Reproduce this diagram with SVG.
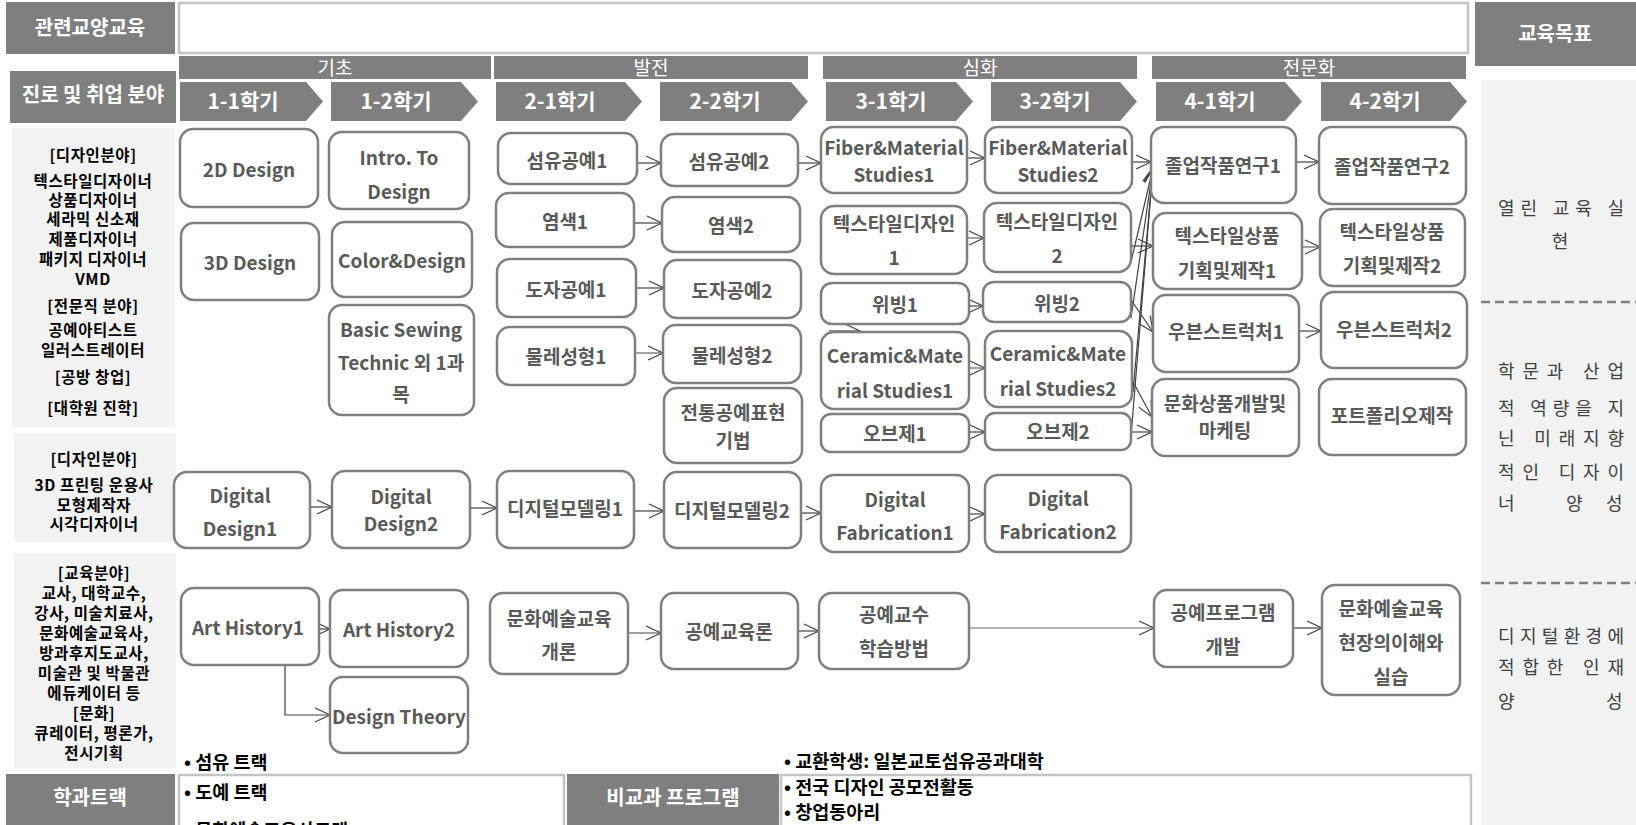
<svg xmlns="http://www.w3.org/2000/svg" width="1636" height="825" viewBox="0 0 1636 825">
<defs>
<style>
text{font-family:"Noto Sans CJK KR","Noto Sans",sans-serif}
.hd{fill:#7f7f7f}
.ht{fill:#fff;font-weight:700;font-size:20px;text-anchor:middle}
.ph{fill:#fff;font-size:19px;text-anchor:middle}
.sm{fill:#fff;font-weight:700;font-size:21px;text-anchor:middle}
.pn{fill:#f2f2f2}
.lt{fill:#000;font-weight:700;font-size:15.5px;letter-spacing:0.6px;text-anchor:middle}
.wb{fill:#fff;stroke:#c4c4c4;stroke-width:2.5}
.n rect{fill:#fff;stroke:#7f7f7f;stroke-width:2.5}
.n text{fill:#595959;font-weight:700;font-size:19px;text-anchor:middle}
.c path{fill:none;stroke:#404040;stroke-width:1.2;marker-end:url(#ah)}
.c path.lt2{stroke:#666}
.rt{fill:#404040;font-size:18px}
.bt{fill:#000;font-weight:700;font-size:18.5px}
.ds{stroke:#808080;stroke-width:2.5;stroke-dasharray:9 5}
</style>
<marker id="ah" markerUnits="userSpaceOnUse" viewBox="0 0 18 16" markerWidth="18" markerHeight="16" refX="16" refY="8" orient="auto" overflow="visible">
<path d="M1,1 L16,8 L1,15" fill="none" stroke="#404040" stroke-width="1.2"/>
</marker>
</defs>
<rect width="1636" height="825" fill="#fff"/>

<g id="headers">
<rect class="hd" x="6" y="2" width="169" height="52"/>
<text class="ht" x="90" y="35">관련교양교육</text>
<rect class="wb" x="179" y="3" width="1289" height="50"/>
<rect class="hd" x="1475" y="2" width="161" height="64"/>
<text class="ht" x="1555" y="41">교육목표</text>
<rect class="hd" x="10" y="71" width="166" height="52"/>
<text class="ht" x="93" y="102">진로 및 취업 분야</text>
</g>

<g id="phases">
<rect class="hd" x="179" y="56" width="312" height="23"/>
<text class="ph" x="335" y="75">기초</text>
<rect class="hd" x="494" y="56" width="314" height="23"/>
<text class="ph" x="651" y="75">발전</text>
<rect class="hd" x="823" y="56" width="314" height="23"/>
<text class="ph" x="980" y="75">심화</text>
<rect class="hd" x="1152" y="56" width="314" height="23"/>
<text class="ph" x="1309" y="75">전문화</text>
</g>

<g id="semesters">
<polygon class="hd" points="180,82 306,82 323,101.5 306,121 180,121"/>
<text class="sm" x="243" y="109">1-1학기</text>
<polygon class="hd" points="331,82 461,82 478,101.5 461,121 331,121"/>
<text class="sm" x="396" y="109">1-2학기</text>
<polygon class="hd" points="496,82 625,82 642,101.5 625,121 496,121"/>
<text class="sm" x="560" y="109">2-1학기</text>
<polygon class="hd" points="660,82 791,82 808,101.5 791,121 660,121"/>
<text class="sm" x="725" y="109">2-2학기</text>
<polygon class="hd" points="826,82 956,82 973,101.5 956,121 826,121"/>
<text class="sm" x="891" y="109">3-1학기</text>
<polygon class="hd" points="991,82 1120,82 1137,101.5 1120,121 991,121"/>
<text class="sm" x="1055" y="109">3-2학기</text>
<polygon class="hd" points="1156,82 1285,82 1302,101.5 1285,121 1156,121"/>
<text class="sm" x="1220" y="109">4-1학기</text>
<polygon class="hd" points="1321,82 1450,82 1467,101.5 1450,121 1321,121"/>
<text class="sm" x="1385" y="109">4-2학기</text>
</g>

<g id="career-panels">
<rect class="pn" x="12" y="128" width="163" height="299"/>
<text class="lt" x="93" y="161">[디자인분야]</text>
<text class="lt" x="93" y="187">텍스타일디자이너</text>
<text class="lt" x="93" y="206">상품디자이너</text>
<text class="lt" x="93" y="225">세라믹 신소재</text>
<text class="lt" x="93" y="245">제품디자이너</text>
<text class="lt" x="93" y="265">패키지 디자이너</text>
<text class="lt" x="93" y="285">VMD</text>
<text class="lt" x="93" y="312">[전문직 분야]</text>
<text class="lt" x="93" y="336">공예아티스트</text>
<text class="lt" x="93" y="356">일러스트레이터</text>
<text class="lt" x="93" y="383">[공방 창업]</text>
<text class="lt" x="93" y="414">[대학원 진학]</text>
<rect class="pn" x="14" y="433" width="162" height="109"/>
<text class="lt" x="94" y="465">[디자인분야]</text>
<text class="lt" x="94" y="491">3D 프린팅 운용사</text>
<text class="lt" x="94" y="511">모형제작자</text>
<text class="lt" x="94" y="530">시각디자이너</text>
<rect class="pn" x="14" y="553" width="162" height="215"/>
<text class="lt" x="94" y="579">[교육분야]</text>
<text class="lt" x="94" y="599">교사, 대학교수,</text>
<text class="lt" x="94" y="619">강사, 미술치료사,</text>
<text class="lt" x="94" y="639">문화예술교육사,</text>
<text class="lt" x="94" y="659">방과후지도교사,</text>
<text class="lt" x="94" y="679">미술관 및 박물관</text>
<text class="lt" x="94" y="699">에듀케이터 등</text>
<text class="lt" x="94" y="719">[문화]</text>
<text class="lt" x="94" y="739">큐레이터, 평론가,</text>
<text class="lt" x="94" y="759">전시기획</text>
</g>

<g id="goals">
<rect class="pn" x="1481" y="80" width="155" height="745"/>
<text class="rt" x="1498" y="215" textLength="126" lengthAdjust="spacing">열린 교육 실</text>
<text class="rt" x="1560" y="248" text-anchor="middle">현</text>
<line class="ds" x1="1481" y1="302" x2="1636" y2="302"/>
<text class="rt" x="1498" y="378" textLength="126" lengthAdjust="spacing">학문과 산업</text>
<text class="rt" x="1498" y="415" textLength="126" lengthAdjust="spacing">적 역량을 지</text>
<text class="rt" x="1498" y="445" textLength="126" lengthAdjust="spacing">닌 미래지향</text>
<text class="rt" x="1498" y="479" textLength="126" lengthAdjust="spacing">적인 디자이</text>
<text class="rt" x="1498" y="510">너</text>
<text class="rt" x="1566" y="510">양</text>
<text class="rt" x="1606" y="510">성</text>
<line class="ds" x1="1481" y1="583" x2="1636" y2="583"/>
<text class="rt" x="1498" y="643" textLength="126" lengthAdjust="spacing">디지털환경에</text>
<text class="rt" x="1498" y="674" textLength="126" lengthAdjust="spacing">적합한 인재</text>
<text class="rt" x="1498" y="708">양</text>
<text class="rt" x="1606" y="708">성</text>
</g>

<g id="bottom">
<rect class="hd" x="6" y="774" width="169" height="55"/>
<text class="ht" x="90" y="805">학과트랙</text>
<rect class="wb" x="179" y="775" width="385" height="60"/>
<text class="bt" x="184" y="769">• 섬유 트랙</text>
<text class="bt" x="184" y="799">• 도예 트랙</text>
<text class="bt" x="184" y="837">• 문화예술교육사트랙</text>
<rect class="hd" x="567" y="774" width="212" height="55"/>
<text class="ht" x="673" y="805">비교과 프로그램</text>
<rect class="wb" x="781" y="775" width="690" height="60"/>
<text class="bt" x="784" y="768">• 교환학생: 일본교토섬유공과대학</text>
<text class="bt" x="784" y="794">• 전국 디자인 공모전활동</text>
<text class="bt" x="784" y="819">• 창업동아리</text>
</g>

<g id="connectors" class="c">
<path d="M637 163 H661"/>
<path d="M798 163 H821"/>
<path d="M967 158 H985"/>
<path d="M634 223 H662"/>
<path class="lt2" d="M963 238 H984"/>
<path d="M636 288 H664"/>
<path d="M963 306 H983"/>
<path class="lt2" d="M635 353 H663"/>
<path class="lt2" d="M963 368 H985"/>
<path d="M829 331 H860"/>
<path d="M963 432 H985"/>
<path d="M1132 162 H1151"/>
<path d="M1131 262 L1153 168"/>
<path d="M1131 318 L1153 168"/>
<path d="M1133 392 L1153 168"/>
<path d="M1131 436 L1153 168"/>
<path d="M1131 246 H1153"/>
<path d="M1131 300 L1153 332"/>
<path d="M1132 380 L1152 417"/>
<path d="M1131 432 H1152"/>
<path d="M1296 162 H1319"/>
<path class="lt2" d="M1302 247 H1320"/>
<path d="M1299 331 H1321"/>
<path d="M1293 628 H1322"/>
<path d="M470 508 H497"/>
<path d="M302 507 H332"/>
<path d="M634 511 H664"/>
<path d="M801 513 H821"/>
<path d="M969 514 H985"/>
<path d="M628 633 H661"/>
<path d="M798 631 H819"/>
<path class="lt2" d="M969 628 H1154"/>
<path d="M305 629 H330"/>
<path d="M242 665 H285 V715 H330"/>
</g>

<g id="n2d" class="n"><rect x="180" y="129" width="138" height="78" rx="13"/><text x="249" y="177">2D Design</text></g>
<g id="n3d" class="n"><rect x="181" y="223" width="138" height="77" rx="13"/><text x="250" y="270">3D Design</text></g>
<g id="nintro" class="n"><rect x="329" y="132" width="140" height="77" rx="13"/><text x="399" y="165">Intro. To</text><text x="399" y="199">Design</text></g>
<g id="ncolor" class="n"><rect x="332" y="222" width="140" height="75" rx="13"/><text x="402" y="268">Color&amp;Design</text></g>
<g id="nsewing" class="n"><rect x="329" y="305" width="145" height="110" rx="13"/><text x="401" y="337">Basic Sewing</text><text x="401" y="370">Technic 외 1과</text><text x="401" y="402">목</text></g>
<g id="nfib1" class="n"><rect x="498" y="133" width="139" height="51" rx="13"/><text x="567" y="168">섬유공예1</text></g>
<g id="nfib2" class="n"><rect x="661" y="134" width="137" height="52" rx="13"/><text x="729" y="169">섬유공예2</text></g>
<g id="nfm1" class="n"><rect x="821" y="127" width="146" height="66" rx="13"/><text x="894" y="155">Fiber&amp;Material</text><text x="894" y="182">Studies1</text></g>
<g id="nfm2" class="n"><rect x="985" y="127" width="147" height="66" rx="13"/><text x="1058" y="155">Fiber&amp;Material</text><text x="1058" y="182">Studies2</text></g>
<g id="ndye1" class="n"><rect x="496" y="193" width="138" height="54" rx="13"/><text x="565" y="229">염색1</text></g>
<g id="ndye2" class="n"><rect x="662" y="197" width="138" height="55" rx="13"/><text x="731" y="233">염색2</text></g>
<g id="ntd1" class="n"><rect x="821" y="206" width="146" height="68" rx="13"/><text x="894" y="231">텍스타일디자인</text><text x="894" y="265">1</text></g>
<g id="ntd2" class="n"><rect x="984" y="203" width="147" height="69" rx="13"/><text x="1057" y="229">텍스타일디자인</text><text x="1057" y="263">2</text></g>
<g id="ncer1" class="n"><rect x="497" y="259" width="139" height="58" rx="13"/><text x="566" y="297">도자공예1</text></g>
<g id="ncer2" class="n"><rect x="664" y="260" width="137" height="58" rx="13"/><text x="732" y="298">도자공예2</text></g>
<g id="nweav1" class="n"><rect x="821" y="283" width="148" height="41" rx="11"/><text x="895" y="312">위빙1</text></g>
<g id="nweav2" class="n"><rect x="983" y="282" width="148" height="40" rx="11"/><text x="1057" y="311">위빙2</text></g>
<g id="nwheel1" class="n"><rect x="497" y="327" width="138" height="58" rx="13"/><text x="566" y="364">물레성형1</text></g>
<g id="nwheel2" class="n"><rect x="663" y="325" width="138" height="58" rx="13"/><text x="732" y="363">물레성형2</text></g>
<g id="ncm1" class="n"><rect x="821" y="332" width="148" height="77" rx="13"/><text x="895" y="363">Ceramic&amp;Mate</text><text x="895" y="398">rial Studies1</text></g>
<g id="ncm2" class="n"><rect x="985" y="331" width="147" height="76" rx="13"/><text x="1058" y="361">Ceramic&amp;Mate</text><text x="1058" y="396">rial Studies2</text></g>
<g id="ntrad" class="n"><rect x="664" y="388" width="138" height="75" rx="13"/><text x="733" y="420">전통공예표현</text><text x="733" y="448">기법</text></g>
<g id="nobj1" class="n"><rect x="821" y="414" width="148" height="38" rx="10"/><text x="895" y="441">오브제1</text></g>
<g id="nobj2" class="n"><rect x="985" y="413" width="146" height="37" rx="10"/><text x="1058" y="439">오브제2</text></g>
<g id="ngrad1" class="n"><rect x="1151" y="127" width="145" height="76" rx="13"/><text x="1223" y="173">졸업작품연구1</text></g>
<g id="ngrad2" class="n"><rect x="1319" y="127" width="147" height="77" rx="13"/><text x="1392" y="174">졸업작품연구2</text></g>
<g id="ntp1" class="n"><rect x="1153" y="213" width="149" height="76" rx="13"/><text x="1227" y="243">텍스타일상품</text><text x="1227" y="278">기획및제작1</text></g>
<g id="ntp2" class="n"><rect x="1320" y="209" width="145" height="77" rx="13"/><text x="1392" y="239">텍스타일상품</text><text x="1392" y="273">기획및제작2</text></g>
<g id="nws1" class="n"><rect x="1153" y="295" width="146" height="77" rx="13"/><text x="1226" y="339">우븐스트럭처1</text></g>
<g id="nws2" class="n"><rect x="1321" y="292" width="146" height="76" rx="13"/><text x="1394" y="337">우븐스트럭처2</text></g>
<g id="ncp" class="n"><rect x="1152" y="379" width="147" height="77" rx="13"/><text x="1225" y="411">문화상품개발및</text><text x="1225" y="438">마케팅</text></g>
<g id="nport" class="n"><rect x="1319" y="379" width="147" height="76" rx="13"/><text x="1392" y="423">포트폴리오제작</text></g>
<g id="ndd1" class="n"><rect x="174" y="472" width="136" height="76" rx="13"/><text x="240" y="503">Digital</text><text x="240" y="536">Design1</text></g>
<g id="ndd2" class="n"><rect x="332" y="471" width="138" height="77" rx="13"/><text x="401" y="504">Digital</text><text x="401" y="531">Design2</text></g>
<g id="ndm1" class="n"><rect x="497" y="471" width="137" height="77" rx="13"/><text x="565" y="516">디지털모델링1</text></g>
<g id="ndm2" class="n"><rect x="664" y="472" width="137" height="76" rx="13"/><text x="732" y="518">디지털모델링2</text></g>
<g id="ndf1" class="n"><rect x="821" y="475" width="148" height="77" rx="13"/><text x="895" y="507">Digital</text><text x="895" y="540">Fabrication1</text></g>
<g id="ndf2" class="n"><rect x="985" y="475" width="146" height="77" rx="13"/><text x="1058" y="506">Digital</text><text x="1058" y="539">Fabrication2</text></g>
<g id="nah1" class="n"><rect x="181" y="588" width="138" height="77" rx="13"/><text x="248" y="635">Art History1</text></g>
<g id="nah2" class="n"><rect x="330" y="590" width="138" height="77" rx="13"/><text x="399" y="637">Art History2</text></g>
<g id="ndt" class="n"><rect x="330" y="677" width="138" height="76" rx="13"/><text x="399" y="724">Design Theory</text></g>
<g id="nce1" class="n"><rect x="490" y="593" width="138" height="81" rx="13"/><text x="559" y="626">문화예술교육</text><text x="559" y="659">개론</text></g>
<g id="ncel" class="n"><rect x="661" y="593" width="137" height="76" rx="13"/><text x="729" y="639">공예교육론</text></g>
<g id="nctm" class="n"><rect x="819" y="593" width="150" height="76" rx="13"/><text x="894" y="622">공예교수</text><text x="894" y="656">학습방법</text></g>
<g id="ncpd" class="n"><rect x="1154" y="590" width="139" height="77" rx="13"/><text x="1223" y="620">공예프로그램</text><text x="1223" y="654">개발</text></g>
<g id="ncfe" class="n"><rect x="1322" y="585" width="138" height="110" rx="13"/><text x="1391" y="616">문화예술교육</text><text x="1391" y="650">현장의이해와</text><text x="1391" y="684">실습</text></g>
</svg>
